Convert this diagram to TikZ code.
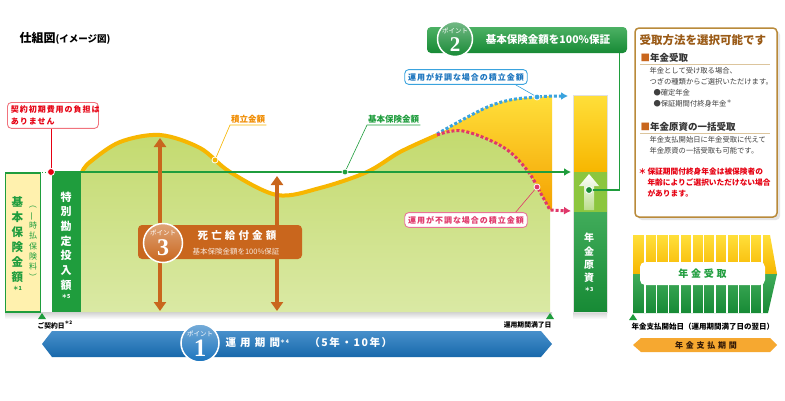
\documentclass[tikz,border=0pt]{standalone}
\usepackage{fontspec}
\setmainfont{Noto Sans CJK JP}
\newfontfamily\chiffre{Liberation Serif}
\usetikzlibrary{calc,backgrounds,arrows.meta,positioning}
\definecolor{vert}{HTML}{1F9D3D}
\definecolor{vertfonce}{HTML}{178A35}
\definecolor{vertclair}{HTML}{C3DA6E}
\definecolor{vertpale}{HTML}{DAE9A4}
\definecolor{vertmoyen}{HTML}{8CC63F}
\definecolor{jaune}{HTML}{FFDF3A}
\definecolor{jaunepale}{HTML}{FFF1AE}
\definecolor{orangefonce}{HTML}{F4A100}
\definecolor{courbe}{HTML}{F7B600}
\definecolor{orangetexte}{HTML}{F08C00}
\definecolor{brun}{HTML}{C9661D}
\definecolor{bleu}{HTML}{1A74BE}
\definecolor{bleuclair}{HTML}{3AA3DE}
\definecolor{rose}{HTML}{E0376A}
\definecolor{rouge}{HTML}{E60012}
\definecolor{or}{HTML}{B98A3A}
\definecolor{titrebrun}{HTML}{9A5A16}
\definecolor{orangeclair}{HTML}{F6A830}

\begin{document}
\begin{tikzpicture}[x=1pt,y=-1pt,%
    show background rectangle,%
    tight background,%
    background rectangle/.style={fill=white}%
    ]
    \useasboundingbox (0,0) rectangle (785,400);%
    % Styles
    \tikzset{fleche/.style={-{Latex[length=7pt,width=8pt]}}}%
    \tikzset{double fleche/.style={{Triangle[length=9pt,width=12pt]}-{Triangle[length=9pt,width=12pt]}, line width=3.5pt, brun}}%
    \tikzset{bulle/.style 2 args={draw=#1, text=#2, fill=white, rounded corners=4pt, line width=0.9pt, align=left, inner sep=3.5pt, font=\bfseries\fontsize{8}{11.5}\selectfont\addfontfeatures{LetterSpace=12}}}%
    \tikzset{pastille/.style={circle, draw=white, line width=1.5pt, top color=#1!60!white, bottom color=#1, minimum size=36pt, inner sep=0pt}}%
    \tikzset{mot pointe/.style={text=white, inner sep=0pt, font=\fontsize{6.5}{7}\selectfont}}%
    \tikzset{chiffre pointe/.style={text=white, inner sep=0pt, font=\chiffre\bfseries\fontsize{#1}{#1}\selectfont}}%
    \tikzset{etiquette/.style={text=#1, inner sep=1pt, font=\bfseries\fontsize{8.5}{9}\selectfont}}%
    \tikzset{bille/.style={circle, fill=#1, draw=white, line width=0.8pt, minimum size=6pt, inner sep=0pt}}%
    \tikzset{liaison/.style={#1, line width=0.6pt}}%

    % Titre
    \node[anchor=west, font=\bfseries\fontsize{12}{12}\selectfont] (titre) at (16,38) {仕組図{\fontsize{9.5}{9.5}\selectfont (イメージ図)}};%

    % Ombres
    \shade[top color=black!18, bottom color=white] (5,312) rectangle (552,319);%
    \shade[top color=black!18, bottom color=white] (573,312) rectangle (607,319);%

    % Zone verte sous la courbe
    \shade[top color=vertclair, bottom color=vertpale] (81,312) -- (81,172) -- plot[smooth, tension=0.55] coordinates {(82,172) (90,162) (120,142) (160,135) (200,148) (230,172) (277,195) (320,188) (367,172) (400,152) (437,135)} -- plot[smooth, tension=0.6] coordinates {(437,135) (463,131) (503,147) (527,170) (540,192) (550,210)} -- (550,312) -- cycle;%

    % Zone jaune entre les deux scenarios
    \shade[top color=jaune, bottom color=orangefonce] plot[smooth, tension=0.6] coordinates {(437,135) (483,109) (510,100) (537,97) (552,96)} -- (552,211) -- plot[smooth, tension=0.6] coordinates {(550,210) (540,192) (527,170) (503,147) (463,131) (437,135)} -- cycle;%

    % Courbe du montant accumule
    \draw[courbe, line width=4pt] plot[smooth, tension=0.55] coordinates {(82,172) (90,162) (120,142) (160,135) (200,148) (230,172) (277,195) (320,188) (367,172) (400,152) (437,135)};%

    % Scenarios
    \draw[bleuclair, line width=3pt, dash pattern=on 3pt off 2pt, fleche] plot[smooth, tension=0.6] coordinates {(437,134) (483,109) (510,100) (537,97) (552,96)} -- (568,96);%
    \draw[rose, line width=3pt, dash pattern=on 3pt off 2pt, fleche] plot[smooth, tension=0.6] coordinates {(437,135) (463,131) (503,147) (527,170) (540,192) (550,210)} -- (571,211);%

    % Colonnes de gauche
    \node[draw=vert, line width=1.2pt, fill=jaunepale, minimum width=35pt, minimum height=139pt] (base) at (23,242.5) {};%
    \node[text=vert, align=center, font=\bfseries\fontsize{11.5}{15}\selectfont] (base texte) at (17.5,240) {基\\本\\保\\険\\金\\額};%
    \node[text=vert, font=\bfseries\fontsize{5.5}{6}\selectfont] at (17.5,288) {＊1};%
    \node[text=vert, align=center, font=\fontsize{8}{10.3}\selectfont] (prime) at (33,241) {\rotatebox[origin=c]{-90}{（}\\\rotatebox[origin=c]{90}{一}\\時\\払\\保\\険\\料\\\rotatebox[origin=c]{-90}{）}};%
    \node[fill=vert, minimum width=29pt, minimum height=140pt] (special) at (66.5,242) {};%
    \node[text=white, align=center, font=\bfseries\fontsize{11}{14.7}\selectfont] (special texte) at (66,241) {特\\別\\勘\\定\\投\\入\\額};%
    \node[text=white, font=\bfseries\fontsize{5.5}{6}\selectfont] at (66,296) {＊5};%

    % Ligne du montant garanti
    \coordinate (depart) at (42,172);%
    \coordinate (contrat) at (51,172);%
    \coordinate (fin ligne) at (571,172);%
    \draw[vert, line width=1pt, dotted] (depart) -- (contrat);%
    \draw[vert, line width=2pt, fleche] (contrat) -- (fin ligne);%

    % Montant du capital de rente
    \shade[top color=jaune, bottom color=courbe] (573,95) rectangle (607,172);%
    \fill[vertmoyen] (573,172) rectangle (607,212);%
    \shade[top color=vert!85!white, bottom color=vertfonce] (573,212) rectangle (607,312);%
    \node[draw=black!12, line width=1pt, minimum width=34pt, minimum height=217pt] (gensi) at (590,203.5) {};%
    \shade[top color=white, bottom color=white!40!vertmoyen] (589,174) -- (599,186) -- (594,186) -- (594,210) -- (584,210) -- (584,186) -- (579,186) -- cycle;%
    \node[text=white, align=center, font=\bfseries\fontsize{10}{13.3}\selectfont] (gensi texte) at (589,258) {年\\金\\原\\資};%
    \node[text=white, font=\bfseries\fontsize{5.5}{6}\selectfont] at (589,289) {＊3};%

    % Capital de deces
    \coordinate (m1 haut) at (160,138);%
    \coordinate (m1 bas) at (160,311);%
    \coordinate (m2 haut) at (277,176);%
    \coordinate (m2 bas) at (277,311);%
    \draw[double fleche] (m1 haut) -- (m1 bas);%
    \draw[double fleche] (m2 haut) -- (m2 bas);%
    \node[fill=brun, rounded corners=4pt, minimum width=164pt, minimum height=34pt] (boite3) at (220,242) {};%
    \node[pastille=brun, minimum size=39pt] (p3) at (163,243) {};%
    \node[mot pointe] at ($(p3)+(0,-10)$) {ポイント};%
    \node[chiffre pointe=24] at ($(p3)+(0,5)$) {3};%
    \node[text=white, font=\bfseries\fontsize{10.5}{11}\selectfont\addfontfeatures{LetterSpace=30}] (deces) at (237,235) {死亡給付金額};%
    \node[text=white!85!brun, font=\fontsize{7.5}{8}\selectfont] (deces sous) at (236,252) {基本保険金額を100\%保証};%

    % Points et etiquettes
    \node[bille=courbe] (p cumul) at (215,160) {};%
    \node[bille=vert] (p garanti) at (345,172) {};%
    \node[bille=bleuclair] (p bon) at (537,97) {};%
    \node[bille=rose] (p mauvais) at (537,187) {};%
    \node[bille=rouge, minimum size=7pt] (p contrat) at (contrat) {};%

    \node[etiquette=orangetexte, anchor=south west] (cumul) at (230,125) {積立金額};%
    \draw[liaison=courbe] (p cumul) -- (cumul.south west) -- (cumul.south east);%
    \node[etiquette=vert, anchor=south west] (garanti) at (367,125) {基本保険金額};%
    \draw[liaison=vert] (p garanti) -- (garanti.south west) -- (garanti.south east);%

    \node[bulle={bleuclair}{bleu}] (bon) at (466,77) {運用が好調な場合の積立金額};%
    \draw[liaison=bleuclair] ($(bon.south east)+(-12,0)$) -- (p bon);%
    \node[bulle={rose!70}{rose}] (mauvais) at (466,220) {運用が不調な場合の積立金額};%
    \draw[liaison=rose] ($(mauvais.north east)+(-12,0)$) -- (p mauvais);%

    \node[bulle={rouge!55}{rouge}, anchor=north west, text width=84pt] (frais) at (7,102) {契約初期費用の負担は\\ありません};%
    \draw[liaison=rouge] (frais.south -| p contrat) -- (p contrat);%

    % Point 2
    \node[top color=vert!80!white, bottom color=vertfonce, rounded corners=4pt, minimum width=200pt, minimum height=26pt] (banniere) at (527,40) {};%
    \draw[vert, line width=1.2pt] ($(banniere.south east)+(-8,0)$) |- (589,190);%
    \node[bille=vertfonce, minimum size=7pt] (p gensi) at (589,190) {};%
    \node[pastille=vertfonce, minimum size=35pt] (p2) at (455,39) {};%
    \node[mot pointe] at ($(p2)+(0,-8)$) {ポイント};%
    \node[chiffre pointe=21] at ($(p2)+(0,5.5)$) {2};%
    \node[text=white, font=\bfseries\fontsize{10.5}{11}\selectfont] (garantie) at (548,40) {基本保険金額を100\%保証};%

    % Axe du temps
    \fill[vert] (42,313) -- (46,319) -- (38,319) -- cycle;%
    \fill[vert] (550,313) -- (554,319) -- (546,319) -- cycle;%
    \node[anchor=west, font=\bfseries\fontsize{6.8}{7}\selectfont] (date contrat) at (34,325) {ご契約日\textsuperscript{＊2}};%
    \node[anchor=east, font=\bfseries\fontsize{6.8}{7}\selectfont] (date fin) at (555,325) {運用期間満了日};%
    \shade[top color=bleu!80!white, bottom color=bleu!90!black] (42,344) -- (52,331) -- (541,331) -- (552,344) -- (541,357) -- (52,357) -- cycle;%
    \node[pastille=bleu, minimum size=38pt] (p1) at (200,343) {};%
    \node[mot pointe] at ($(p1)+(0,-9)$) {ポイント};%
    \node[chiffre pointe=25] at ($(p1)+(0,5)$) {1};%
    \node[anchor=west, text=white, font=\bfseries\fontsize{10.5}{11}\selectfont\addfontfeatures{LetterSpace=15}] (periode) at (222,343) {{\addfontfeatures{LetterSpace=40}運用期間}\textsuperscript{\fontsize{5}{5}\selectfont ＊4}\hspace{20pt}（5年・10年）};%

    % Panneau de droite
    \fill[black!10, rounded corners=4pt] (638,31) rectangle (780,220);%
    \node[draw=or, line width=1.5pt, fill=white, rounded corners=4pt, minimum width=142pt, minimum height=189pt] (panneau) at (706,122.5) {};%
    \node[anchor=west, text=titrebrun, font=\bfseries\fontsize{11.5}{12}\selectfont] (titre panneau) at (636,40) {受取方法を選択可能です};%
    \node[anchor=west, text=black!80, font=\bfseries\fontsize{9.5}{10}\selectfont] (rente) at (637,58) {\textcolor{brun}{■}年金受取};%
    \draw[or!50, line width=0.8pt] (640,64) -- (770,64);%
    \node[anchor=west, align=left, text=black!75, font=\fontsize{7.3}{11}\selectfont] (rente texte) at (646,76.5) {年金として受け取る場合、\\つぎの種類からご選択いただけます。};%
    \node[anchor=west, align=left, text=black!75, font=\fontsize{7.3}{11}\selectfont] (rente types) at (650,98.5) {●確定年金\\●保証期間付終身年金\textsuperscript{＊}};%
    \node[anchor=west, text=black!80, font=\bfseries\fontsize{9.5}{10}\selectfont] (capital) at (637,127) {\textcolor{brun}{■}年金原資の一括受取};%
    \draw[or!50, line width=0.8pt] (640,133) -- (770,133);%
    \node[anchor=west, align=left, text=black!75, font=\fontsize{7.3}{11}\selectfont] (capital texte) at (646,145.5) {年金支払開始日に年金受取に代えて\\年金原資の一括受取も可能です。};%
    \node[anchor=west, align=left, text=rouge, font=\bfseries\fontsize{7.7}{11}\selectfont] (remarque) at (635,183) {＊\,保証期間付終身年金は被保険者の\\\hphantom{＊\,}年齢によりご選択いただけない場合\\\hphantom{＊\,}があります。};%

    % Versement de la rente
    \shade[top color=jaune, bottom color=courbe] (633,235) -- (770,235) -- (777,274) -- (633,274) -- cycle;%
    \shade[top color=vert!85!white, bottom color=vertfonce] (633,274) -- (777,274) -- (768,313) -- (633,313) -- cycle;%
    \foreach \i in {0,...,10}%
        \draw[white, line width=1.5pt] (645+11.7*\i,235) -- (645+11.7*\i,313);%
    \node[fill=white, rounded corners=5pt, minimum width=125pt, minimum height=23pt, text=vert, font=\bfseries\fontsize{10}{10}\selectfont\addfontfeatures{LetterSpace=28}] (rente bloc) at (702.5,273.5) {年金受取};%
    \fill[vert] (633,314) -- (637,320) -- (629,320) -- cycle;%
    \node[anchor=west, font=\bfseries\fontsize{7.5}{8}\selectfont] (debut rente) at (628,327) {年金支払開始日（運用期間満了日の翌日）};%
    \fill[orangeclair] (633,345) -- (641,338) -- (770,338) -- (777,345) -- (770,352) -- (641,352) -- cycle;%
    \node[text=black!75!brun, font=\bfseries\fontsize{8}{8}\selectfont\addfontfeatures{LetterSpace=35}] (duree rente) at (706,345) {年金支払期間};%
\end{tikzpicture}
\end{document}
